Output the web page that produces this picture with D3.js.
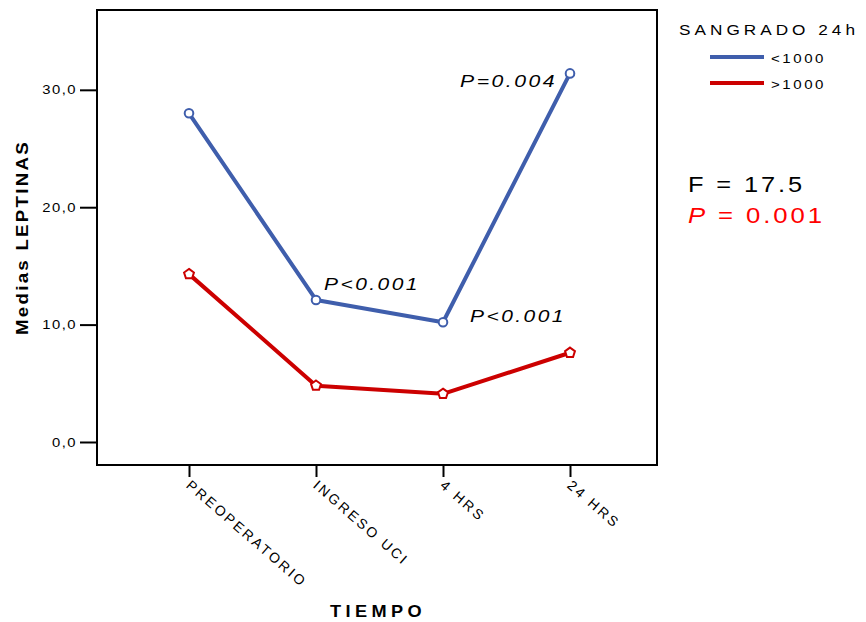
<!DOCTYPE html>
<html><head><meta charset="utf-8">
<script src="https://cdn.jsdelivr.net/npm/d3@7"></script>
<style>body{margin:0;background:#fff}svg{display:block}text{font-family:"Liberation Sans",Arial,sans-serif}</style>
</head><body>
<svg id="c" width="866" height="622"></svg>
<script>
const categories = ["PREOPERATORIO","INGRESO UCI","4 HRS","24 HRS"];
const seriesNames = ["<1000",">1000"];
const valuesLow = [28.0, 12.1, 10.2, 31.4];
const valuesHigh = [14.3, 4.8, 4.1, 7.6];
const yTicks = [0, 10, 20, 30];
const annotations = [
  {cat:"INGRESO UCI", v:12.1, text:"P<0.001", dx:8, dy:-10, w:96},
  {cat:"4 HRS", v:10.2, text:"P<0.001", dx:27, dy:0, w:96},
  {cat:"24 HRS", v:31.4, text:"P=0.004", dx:-110, dy:13.5, w:97}
];

const svg = d3.select("#c");
const L=97, R=657, T=10, B=465;
const x = d3.scalePoint().domain(categories).range([189,570]);
const y = d3.scaleLinear().domain([-1.96, 36.8]).range([B, T]);
const blue = "#3f5eac", red = "#cc0000";

// helper: letter-spacing then stretch to a total width (fixed) or by a factor
function widen(sel, ls, target){
  sel.attr("letter-spacing", ls).each(function(d){
    const n = this.getComputedTextLength();
    const t = typeof target === "function" ? target(d, n) : target;
    d3.select(this).attr("textLength", t).attr("lengthAdjust","spacingAndGlyphs");
  });
  return sel;
}

// frame
svg.append("rect").attr("x",L).attr("y",T).attr("width",R-L).attr("height",B-T)
  .attr("fill","none").attr("stroke","#000").attr("stroke-width",2);

// y axis
const yAxis = svg.append("g").attr("transform",`translate(${L},0)`)
  .call(d3.axisLeft(y).tickValues(yTicks).tickSize(17).tickPadding(3)
     .tickFormat(d=>d3.format(".1f")(d).replace(".",",")));
yAxis.select(".domain").remove();
yAxis.selectAll(".tick line").attr("stroke","#000").attr("stroke-width",2);
widen(yAxis.selectAll(".tick text").attr("font-size",13).attr("fill","#000")
  .attr("font-family","Liberation Sans, Arial, sans-serif"), 1.3, (d,n)=>n*1.14);

// x axis
const xAxis = svg.append("g").attr("transform",`translate(0,${B})`)
  .call(d3.axisBottom(x).tickSize(12).tickFormat(""));
xAxis.select(".domain").remove();
xAxis.selectAll(".tick line").attr("stroke","#000").attr("stroke-width",2);
xAxis.selectAll(".tick").append("text")
  .attr("transform","translate(-1,18) rotate(41)")
  .attr("x",0).attr("y",0).attr("dy","0.35em")
  .attr("text-anchor","start").attr("fill","#000")
  .attr("font-size",14).attr("letter-spacing",2.6)
  .attr("font-family","Liberation Sans, Arial, sans-serif")
  .text(d=>d);

// axis titles
widen(svg.append("text").attr("transform","translate(28,237.5) rotate(-90)")
  .attr("text-anchor","middle").attr("font-weight","bold").attr("font-size",16.5)
  .text("Medias LEPTINAS"), 2, 195);
widen(svg.append("text").attr("x",378).attr("y",617)
  .attr("text-anchor","middle").attr("font-weight","bold").attr("font-size",16.5)
  .text("TIEMPO"), 4, 96);

// lines
const line = d3.line().x((d,i)=>x(categories[i])).y(d=>y(d));
[[valuesLow,blue],[valuesHigh,red]].forEach(([vals,col])=>{
  svg.append("path").datum(vals).attr("d",line).attr("fill","none")
    .attr("stroke",col).attr("stroke-width",4).attr("stroke-linejoin","round");
});
// markers
svg.selectAll(".mlow").data(valuesLow).enter().append("circle")
  .attr("cx",(d,i)=>x(categories[i])).attr("cy",d=>y(d)).attr("r",4.3)
  .attr("fill","#fff").attr("stroke",blue).attr("stroke-width",2);
function pentagon(cx,cy,r){
  const pts=d3.range(5).map(k=>{const a=-Math.PI/2+k*2*Math.PI/5;return [cx+r*Math.cos(a),cy+r*Math.sin(a)];});
  return "M"+pts.map(p=>p.join(",")).join("L")+"Z";
}
svg.selectAll(".mhigh").data(valuesHigh).enter().append("path")
  .attr("d",(d,i)=>pentagon(x(categories[i]),y(d),5.2))
  .attr("fill","#fff").attr("stroke",red).attr("stroke-width",2);

// annotations
widen(svg.selectAll(".ann").data(annotations).enter().append("text")
  .attr("x",d=>x(d.cat)+d.dx).attr("y",d=>y(d.v)+d.dy)
  .attr("font-size",17).attr("font-style","italic")
  .attr("fill","#000").text(d=>d.text), 2, d=>d.w);

// legend
widen(svg.append("text").attr("x",679).attr("y",35).attr("font-size",15)
  .text("SANGRADO 24h"), 3.5, 180);
seriesNames.forEach((n,i)=>{
  const yy = 57 + i*26;
  svg.append("line").attr("x1",710).attr("x2",764).attr("y1",yy).attr("y2",yy)
    .attr("stroke",i?red:blue).attr("stroke-width",4);
  widen(svg.append("text").attr("x",771).attr("y",yy+6).attr("font-size",13).text(n), 2.2, 55);
});

// stats
widen(svg.append("text").attr("x",688).attr("y",192).attr("font-size",22).text("F = 17.5"), 2.5, 117);
const pt = svg.append("text").attr("x",688).attr("y",223).attr("font-size",22).attr("fill","#ff0000");
pt.append("tspan").attr("font-style","italic").text("P");
pt.append("tspan").text(" = 0.001");
widen(pt, 2.5, 137);
</script>
</body></html>
